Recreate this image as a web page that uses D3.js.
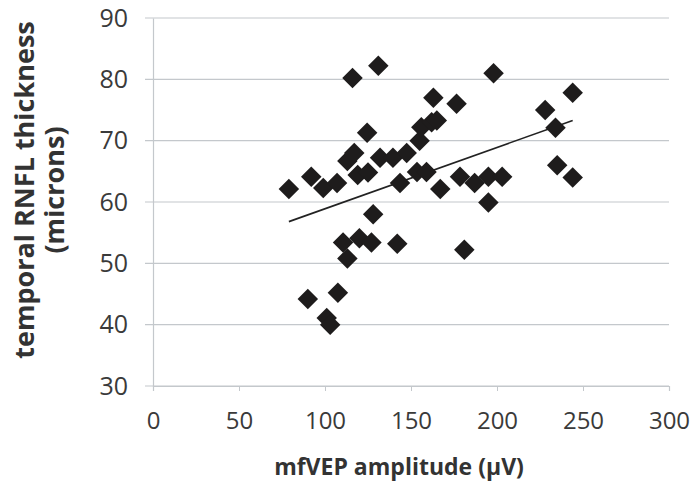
<!DOCTYPE html>
<html>
<head>
<meta charset="utf-8">
<script src="https://cdn.jsdelivr.net/npm/d3@7"></script>
<style>
  body { margin: 0; background: #fff; }
  text { font-family: "Open Sans", sans-serif; }
</style>
</head>
<body>
<div id="chart"></div>
<script>
// values
var amplitude = [79, 92, 99, 107, 113, 117, 119, 125, 124.5, 116, 131, 132, 128, 110.5, 120, 127, 113,
  90, 107.5, 101, 103, 139.5, 147.5, 143.6, 142, 153.5, 159, 155, 156, 162, 165, 163, 167, 176.5,
  178.5, 181, 187, 195, 195, 198, 203, 228, 234, 235, 244, 244];
var thickness = [62.1, 64.1, 62.3, 63.1, 66.7, 68, 64.4, 64.8, 71.3, 80.2, 82.2, 67.2, 58, 53.4, 54.1, 53.4, 50.8,
  44.2, 45.2, 41.1, 40, 67.2, 68, 63.1, 53.2, 64.9, 64.9, 70, 72.2, 73, 73.3, 77, 62.1, 76,
  64.1, 52.2, 63.1, 64.1, 59.9, 81, 64.1, 75, 72.1, 66, 77.8, 64];
var xTicks = [0, 50, 100, 150, 200, 250, 300];
var yTicks = [30, 40, 50, 60, 70, 80, 90];
// trend line: y = slope * x + intercept
var trendSlope = 0.1;
var trendIntercept = 48.9;

var svgWidth = 697;
var svgHeight = 484;
var margin = { top: 18, right: 28, bottom: 98, left: 153 };
var width = svgWidth - margin.left - margin.right;
var height = svgHeight - margin.top - margin.bottom;

var svg = d3.select("#chart")
  .append("svg")
  .attr("width", svgWidth)
  .attr("height", svgHeight);

var chartGroup = svg.append("g")
  .attr("transform", `translate(${margin.left}, ${margin.top})`);

var xScale = d3.scaleLinear().domain([0, 300]).range([0, width]);
var yScale = d3.scaleLinear().domain([30, 90]).range([height, 0]);

// horizontal gridlines
chartGroup.append("g")
  .selectAll("line")
  .data(yTicks)
  .enter()
  .append("line")
  .attr("x1", -8)
  .attr("x2", width)
  .attr("y1", d => yScale(d))
  .attr("y2", d => yScale(d))
  .attr("stroke", "#c4c8cc")
  .attr("stroke-width", 1.2);

// y axis
var leftAxis = d3.axisLeft(yScale).tickValues(yTicks).tickSize(0).tickPadding(25);
var yAxis = chartGroup.append("g").call(leftAxis);
yAxis.select(".domain").attr("stroke", "#c4c8cc").attr("stroke-width", 1.2);
yAxis.selectAll("text")
  .attr("font-size", "25px")
  .attr("fill", "#3a3a3a")
  .attr("font-family", "Open Sans, sans-serif");

// x axis
var bottomAxis = d3.axisBottom(xScale).tickValues(xTicks).tickSize(5).tickPadding(21);
var xAxis = chartGroup.append("g")
  .attr("transform", `translate(0, ${height})`)
  .call(bottomAxis);
xAxis.select(".domain").attr("stroke", "#c4c8cc").attr("stroke-width", 1.2);
xAxis.selectAll("line").attr("stroke", "#c4c8cc");
xAxis.selectAll("text")
  .attr("font-size", "24px")
  .attr("fill", "#3a3a3a")
  .attr("font-family", "Open Sans, sans-serif");

// trend line over the data range
var xExt = d3.extent(amplitude);
chartGroup.append("line")
  .attr("x1", xScale(xExt[0]))
  .attr("y1", yScale(trendSlope * xExt[0] + trendIntercept))
  .attr("x2", xScale(xExt[1]))
  .attr("y2", yScale(trendSlope * xExt[1] + trendIntercept))
  .attr("stroke", "#222")
  .attr("stroke-width", 1.6);

// diamonds
var diamond = d3.symbol().type(d3.symbolSquare).size(210);
chartGroup.selectAll(".pt")
  .data(amplitude)
  .enter()
  .append("path")
  .attr("class", "pt")
  .attr("d", diamond)
  .attr("transform", (d, i) => `translate(${xScale(d)}, ${yScale(thickness[i])}) rotate(45)`)
  .attr("fill", "#1e1c1c");

// axis titles
svg.append("text")
  .attr("x", margin.left + width / 2 - 12)
  .attr("y", 475)
  .attr("text-anchor", "middle")
  .attr("font-size", "23px")
  .attr("font-weight", "bold")
  .attr("fill", "#333")
  .text("mfVEP amplitude (\u03bcV)");

var yTitle = svg.append("g")
  .attr("transform", `translate(0, ${margin.top + height / 2 - 12}) rotate(-90)`);
yTitle.append("text")
  .attr("x", 0)
  .attr("y", 34)
  .attr("text-anchor", "middle")
  .attr("font-size", "27px")
  .attr("font-weight", "bold")
  .attr("fill", "#333")
  .text("temporal RNFL thickness");
yTitle.append("text")
  .attr("x", 0)
  .attr("y", 64)
  .attr("text-anchor", "middle")
  .attr("font-size", "27px")
  .attr("font-weight", "bold")
  .attr("fill", "#333")
  .text("(microns)");
</script>
</body>
</html>
